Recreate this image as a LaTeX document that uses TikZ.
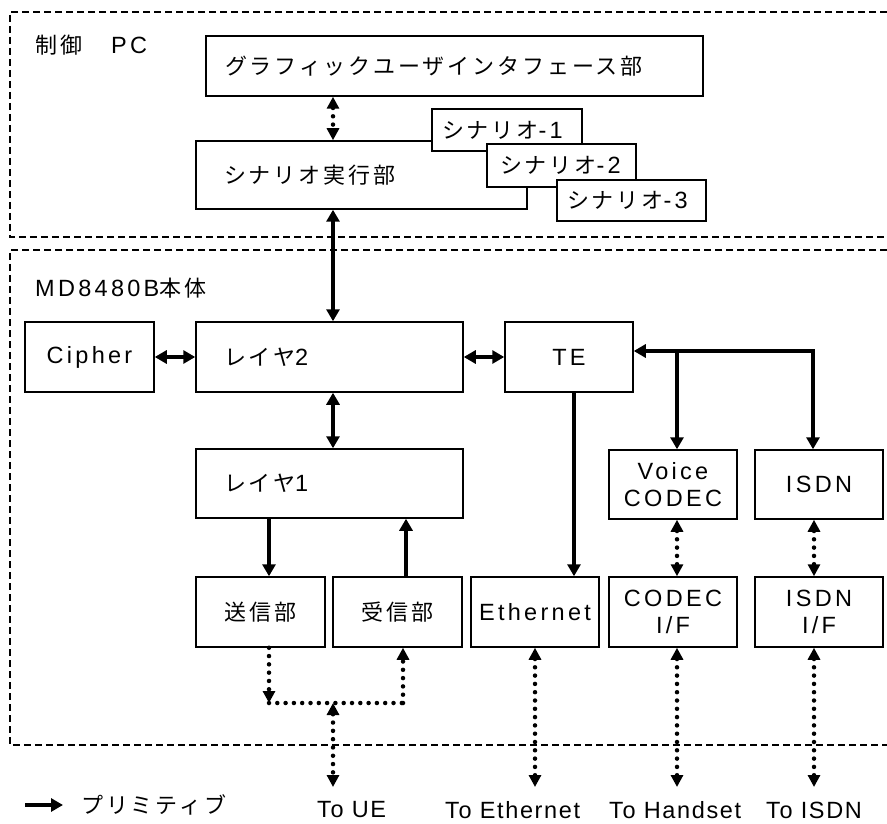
\documentclass[tikz,border=0pt]{standalone}
\usepackage{fontspec}
\setmainfont{Liberation Sans}[LetterSpace=14]
\newfontfamily\jpfont{Noto Sans CJK JP}[LetterSpace=13]
\newfontfamily\lblfont{Liberation Sans}[LetterSpace=7]
\newcommand\myfs{\fontsize{23.5pt}{27pt}\selectfont}
\newcommand\J[1]{{\jpfont\fontsize{22pt}{27pt}\selectfont #1}}
\usetikzlibrary{arrows.meta,calc}
\begin{document}
\begin{tikzpicture}[x=1pt,y=-1pt,
  box/.style={draw, line width=1.5pt, fill=white, inner sep=0pt, font=\myfs},
  lbox/.style={box, align=left},
  cbox/.style={box, align=center},
  dashbox/.style={line width=1.5pt, dash pattern=on 7pt off 4pt},
  thickbi/.style={line width=3.8pt, {Triangle[length=12pt,width=13pt]}-{Triangle[length=12pt,width=13pt]}},
  thickone/.style={line width=3.8pt, -{Triangle[length=12pt,width=13pt]}},
  dotl/.style={line width=4.5pt, line cap=round, dash pattern=on 0pt off 8.3pt},
  dotbi/.style={dotl, {Triangle[length=12pt,width=12pt]}-{Triangle[length=12pt,width=12pt]}},
  dotone/.style={dotl, -{Triangle[length=12pt,width=12pt]}},
  lbl/.style={inner sep=0pt, anchor=west, font=\lblfont\fontsize{23.5pt}{27pt}\selectfont}
]
\useasboundingbox (0,0) rectangle (887,824);
% region frames
\draw[dashbox] (887,12) -- (10,12) -- (10,237) -- (887,237);
\draw[dashbox] (887,250) -- (10,250) -- (10,745) -- (887,745);
\node[anchor=base west, inner sep=0pt, font=\myfs] (pclbl) at (35,54) {\J{制御}\hspace{29pt}PC};
\node[anchor=base west, inner sep=0pt, font=\myfs] (mdlbl) at (35,296) {MD8480B\J{本体}};
% PC boxes
\node[lbox, minimum height=60pt, inner xsep=19pt, text width=459pt] (gui) at (454.5,66) {\J{グラフィックユーザインタフェース部}};
\node[lbox, minimum height=68pt, inner xsep=28pt, text width=275pt] (exec) at (361.5,175) {\J{シナリオ実行部}};
\node[lbox, minimum height=42pt, inner xsep=10pt, text width=130pt] (sc1) at (507,130) {\J{シナリオ}-1};
\node[lbox, minimum height=43pt, inner xsep=13pt, text width=123pt] (sc2) at (561.5,165.5) {\J{シナリオ}-2};
\node[lbox, minimum height=41pt, inner xsep=10pt, text width=129pt] (sc3) at (631.5,200.5) {\J{シナリオ}-3};
% MD8480B boxes
\node[lbox, minimum height=70pt, inner xsep=28pt, text width=211pt] (l2) at (329.5,357) {\J{レイヤ}2};
\node[lbox, minimum height=69pt, inner xsep=28pt, text width=211pt] (l1) at (329.5,483.5) {\J{レイヤ}1};
\node[cbox, minimum width=129pt, minimum height=70pt] (ciph) at (89.5,357) {Cipher};
\node[cbox, minimum width=128pt, minimum height=70pt] (te) at (569,357) {TE};
\node[cbox, minimum width=128pt, minimum height=69pt] (voice) at (673,484.5) {Voice\\CODEC};
\node[cbox, minimum width=128pt, minimum height=69pt] (isdn) at (819,484.5) {ISDN};
\node[cbox, minimum width=129pt, minimum height=70pt] (tx) at (260.5,612) {\J{送信部}};
\node[cbox, minimum width=129pt, minimum height=70pt] (rx) at (397.5,612) {\J{受信部}};
\node[cbox, minimum width=128pt, minimum height=70pt] (eth) at (535,612) {Ethernet};
\node[cbox, minimum width=128pt, minimum height=70pt] (cif) at (673,612) {CODEC\\I/F};
\node[cbox, minimum width=128pt, minimum height=70pt] (iif) at (819,612) {ISDN\\I/F};
% bottom labels
\node[lbl] (toue) at (317,810) {To UE};
\node[lbl] (toeth) at (445,810) {To Ethernet};
\node[lbl] (tohs) at (609,810) {To Handset};
\node[lbl] (toisdn) at (766,810) {To ISDN};
\node[anchor=west, inner sep=0pt, font=\myfs] (lgtxt) at (81,805) {\J{プリミティブ}};
% helper coordinates
\coordinate (xa) at (333,0);
\coordinate (xtx) at (269,0);
\coordinate (xrx) at (406,0);
\coordinate (xe) at (574,0);
\coordinate (xv) at (677,0);
\coordinate (xi) at (814,0);
\coordinate (jt) at (677,351);
\coordinate (jr) at (813,351);
\coordinate (ta) at (269,703);
\coordinate (tb) at (403,703);
\coordinate (tj) at (333,703);
\coordinate (ue) at (333,787);
\coordinate (et) at (535,787);
\coordinate (hs) at (677,787);
\coordinate (in) at (814,787);
\coordinate (lga) at (25,805);
\coordinate (lgb) at (63,805);
% connectors
\draw[dotbi] (gui.south -| xa) -- (exec.north -| xa);
\draw[thickbi] (exec.south -| xa) -- (l2.north -| xa);
\draw[thickbi] (l2.south -| xa) -- (l1.north -| xa);
\draw[thickbi] (ciph.east) -- (l2.west);
\draw[thickbi] (l2.east) -- (te.west);
\draw[thickbi] (te.east |- jt) -- (jr) -- (isdn.north -| jr);
\draw[thickone] (jt) -- (voice.north -| jt);
\draw[thickone] (te.south -| xe) -- (eth.north -| xe);
\draw[thickone] (l1.south -| xtx) -- (tx.north -| xtx);
\draw[thickone] (rx.north -| xrx) -- (l1.south -| xrx);
\draw[dotbi] (voice.south -| xv) -- (cif.north -| xv);
\draw[dotbi] (isdn.south -| xi) -- (iif.north -| xi);
\draw[dotone] (tx.south -| xtx) -- (ta);
\draw[dotl] (ta) -- (tb);
\draw[dotone] (tb) -- (rx.south -| tb);
\draw[dotbi] (tj) -- (ue);
\draw[dotbi] (eth.south) -- (et);
\draw[dotbi] (cif.south -| xv) -- (hs);
\draw[dotbi] (iif.south -| xi) -- (in);
\draw[thickone] (lga) -- (lgb);
\end{tikzpicture}
\end{document}
